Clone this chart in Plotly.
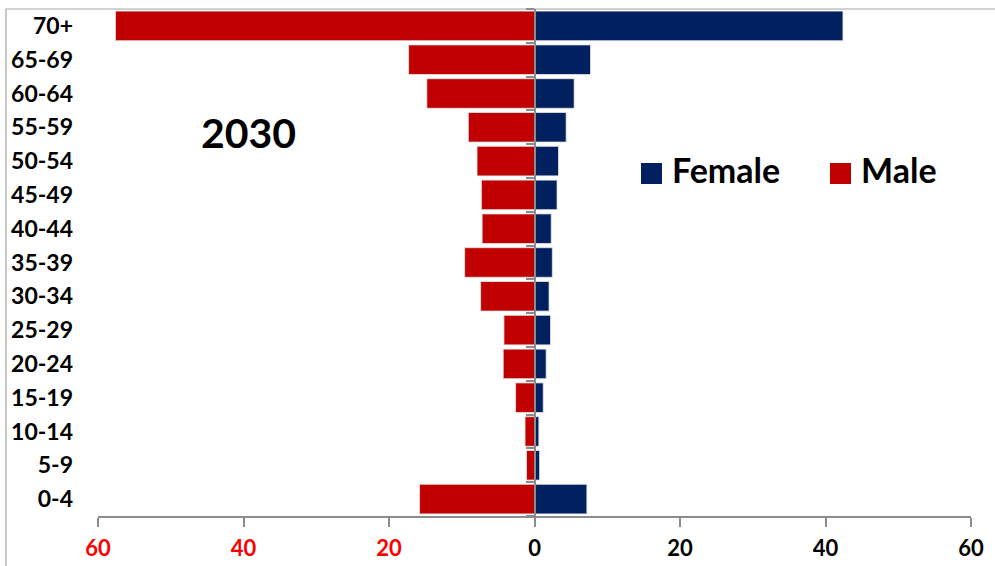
import plotly.graph_objects as go

# Age groups, bottom to top
ages = ["0-4", "5-9", "10-14", "15-19", "20-24", "25-29", "30-34", "35-39",
        "40-44", "45-49", "50-54", "55-59", "60-64", "65-69", "70+"]

male = [15.8, 1.1, 1.3, 2.6, 4.3, 4.2, 7.4, 9.6, 7.2, 7.3, 7.9, 9.1, 14.8, 17.3, 57.6]
female = [7.2, 0.7, 0.6, 1.2, 1.6, 2.2, 2.0, 2.45, 2.3, 3.1, 3.3, 4.35, 5.45, 7.7, 42.4]

x_tick_values = [-60, -40, -20, 0, 20, 40, 60]
x_tick_labels = ["60", "40", "20", "0", "20", "40", "60"]

year_label = "2030"

MALE_COLOR = "#C00000"
FEMALE_COLOR = "#002060"
AXIS_GRAY = "#8C8C8C"
FONT = "Lato"

W, H = 995, 566
ML, MR, MT, MB = 98, 24, 9, 50
plot_w = W - ML - MR
plot_h = H - MT - MB


def px_x(p):
    return (p - ML) / plot_w


def px_y(p):
    return (H - MB - p) / plot_h


fig = go.Figure()

fig.add_trace(go.Bar(
    y=ages, x=[-v for v in male], orientation="h", name="Male",
    marker=dict(color=MALE_COLOR, line=dict(color="#E6E6E6", width=0.8)),
    showlegend=False,
))
fig.add_trace(go.Bar(
    y=ages, x=female, orientation="h", name="Female",
    marker=dict(color=FEMALE_COLOR, line=dict(color="#E6E6E6", width=0.8)),
    showlegend=False,
))

# invisible trace carrying the centre axis (line at zero with boundary ticks)
fig.add_trace(go.Scatter(
    y=ages, x=[0] * len(ages), yaxis="y2", mode="none",
    showlegend=False, hoverinfo="skip",
))

tick_text = []
for v, t in zip(x_tick_values, x_tick_labels):
    col = "#FF0000" if v < 0 else "#000000"
    tick_text.append(f"<span style='color:{col}'>{t}</span>")

fig.update_layout(
    width=W, height=H,
    margin=dict(l=ML, r=MR, t=MT, b=MB, pad=0, autoexpand=False),
    paper_bgcolor="white", plot_bgcolor="white",
    barmode="relative", bargap=0.125,
    font=dict(family=FONT, color="#000000"),
    xaxis=dict(
        range=[-60, 60], tickvals=x_tick_values, ticktext=tick_text,
        showgrid=False, zeroline=False, automargin=False,
        showline=True, linecolor=AXIS_GRAY, linewidth=1.5,
        ticks="outside", ticklen=9, tickwidth=1.5, tickcolor=AXIS_GRAY,
        tickfont=dict(family=FONT, size=22, weight=700),
        ticklabelstandoff=3,
    ),
    yaxis=dict(
        categoryorder="array", categoryarray=ages, range=[-0.5, 14.5],
        showgrid=False, zeroline=False, showline=False, ticks="",
        automargin=False,
        tickfont=dict(family=FONT, size=23, weight=700, color="#000000"),
        ticklabelstandoff=24,
    ),
    yaxis2=dict(
        overlaying="y", anchor="free", position=0.5, side="left",
        categoryorder="array", categoryarray=ages, range=[-0.5, 14.5],
        showgrid=False, zeroline=False, showticklabels=False, automargin=False,
        showline=True, linecolor=AXIS_GRAY, linewidth=1.5,
        ticks="outside", tickson="boundaries", ticklen=8, tickwidth=1.5,
        tickcolor=AXIS_GRAY,
    ),
)

# outer chart frame
fig.add_shape(type="rect", xref="paper", yref="paper",
              x0=px_x(6), x1=px_x(1010), y0=px_y(580), y1=px_y(9),
              line=dict(color="#A6A6A6", width=1.2), fillcolor="rgba(0,0,0,0)",
              layer="below")

# year label
fig.add_annotation(xref="paper", yref="paper", x=px_x(248), y=px_y(132),
                   text=year_label, showarrow=False, xanchor="center", yanchor="middle",
                   font=dict(family=FONT, size=41, weight=700, color="#000000"))

# legend: coloured squares with names
legend_items = [("Female", FEMALE_COLOR, 641), ("Male", MALE_COLOR, 830)]
for name, col, left in legend_items:
    fig.add_shape(type="rect", xref="paper", yref="paper",
                  x0=px_x(left), x1=px_x(left + 21), y0=px_y(184), y1=px_y(163),
                  line=dict(width=0), fillcolor=col)
    fig.add_annotation(xref="paper", yref="paper", x=px_x(left + 29), y=px_y(170),
                       text=name, showarrow=False, xanchor="left", yanchor="middle",
                       font=dict(family=FONT, size=34, weight=700, color="#000000"))

fig.write_html("out.html")
